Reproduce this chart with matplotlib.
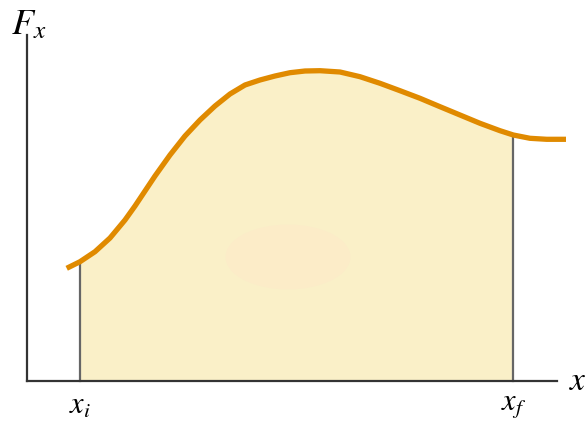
import matplotlib
matplotlib.use("Agg")
import matplotlib.pyplot as plt
from matplotlib.patches import Ellipse
import numpy as np

# curve F_x(x), arbitrary units (origin at the axes corner)
x_curve = [3.97, 5.3, 6.8, 8.3, 9.8, 10.8, 11.8, 12.8, 14.3, 15.8, 17.3, 18.8,
           20.3, 21.8, 23.3, 24.8, 26.3, 27.8, 29.3, 31.3, 33.3, 35.3, 37.3,
           39.3, 41.3, 43.3, 45.3, 47.3, 48.63, 50.3, 51.97, 53.9]
f_curve = [11.27, 11.93, 12.93, 14.3, 16.1, 17.5, 19.0, 20.5, 22.6, 24.5,
           26.1, 27.5, 28.7, 29.6, 30.1, 30.5, 30.83, 31.0, 31.03, 30.9,
           30.43, 29.77, 29.03, 28.27, 27.43, 26.6, 25.77, 25.03, 24.6, 24.27,
           24.17, 24.17]
x_i, x_f = 5.3, 48.63
x_axis_len, y_axis_len = 53.0, 34.6

ORANGE = "#E08A00"
FILL = "#FAF0C8"

plt.rcParams["mathtext.fontset"] = "stix"

fig = plt.figure(figsize=(5.88, 4.23), dpi=100)
ax = fig.add_axes([0, 0, 1, 1])
ax.set_xlim(-2.7, 56.1)
ax.set_ylim(-4.2, 38.1)
ax.axis("off")

xs = np.array(x_curve)
fs = np.array(f_curve)
m = (xs >= x_i) & (xs <= x_f)
ax.fill_between(xs[m], 0, fs[m], color=FILL, lw=0, zorder=1)
ax.add_patch(Ellipse((26.1, 12.4), 12.5, 6.5, color="#FCECC8", lw=0, zorder=2))

# bounding verticals at x_i and x_f
ax.plot([x_i, x_i], [0, fs[m][0]], color="#666666", lw=1.6, zorder=3)
ax.plot([x_f, x_f], [0, fs[m][-1]], color="#666666", lw=1.6, zorder=3)

ax.plot(x_curve, f_curve, color=ORANGE, lw=3.8, solid_capstyle="butt",
        solid_joinstyle="round", zorder=4)

# axes
ax.plot([0, 0], [0, y_axis_len], color="#333333", lw=1.6, zorder=5)
ax.plot([0, x_axis_len], [0, 0], color="#333333", lw=1.6, zorder=5)

ax.text(-1.6, 34.0, r"$F_x$", fontsize=26, ha="left", va="bottom")
ax.text(54.2, 0.1, r"$x$", fontsize=24, ha="left", va="center")
ax.text(x_i, -1.0, r"$x_i$", fontsize=22, ha="center", va="top")
ax.text(x_f, -1.0, r"$x_f$", fontsize=22, ha="center", va="top")

fig.savefig("out.png", dpi=100)
